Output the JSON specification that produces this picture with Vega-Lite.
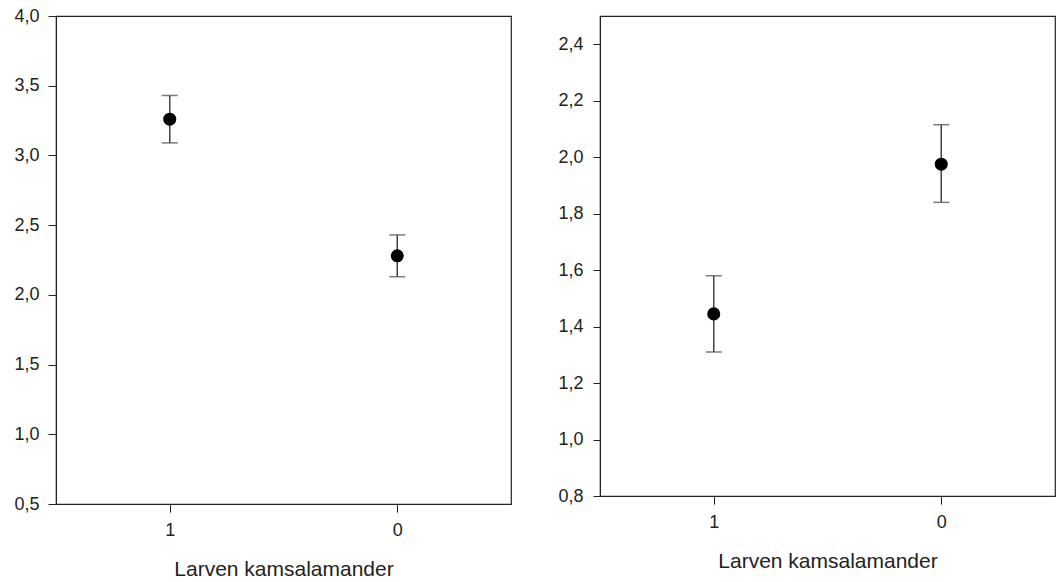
{
  "$schema": "https://vega.github.io/schema/vega-lite/v6.json",
  "background": "white",
  "padding": {"left": 13, "top": 6, "right": 5, "bottom": 0},
  "datasets": {
    "left": [
      {"larven": "1", "mean": 3.26, "lo": 3.09, "hi": 3.43},
      {"larven": "0", "mean": 2.28, "lo": 2.13, "hi": 2.43}
    ],
    "right": [
      {"larven": "1", "mean": 1.445, "lo": 1.31, "hi": 1.58},
      {"larven": "0", "mean": 1.975, "lo": 1.84, "hi": 2.115}
    ]
  },
  "config": {
    "font": "Liberation Sans",
    "view": {"stroke": "#222", "strokeWidth": 1.2},
    "axis": {
      "grid": false,
      "domainColor": "#222",
      "tickColor": "#222",
      "tickSize": 7
    },
    "concat": {"spacing": 45}
  },
  "hconcat": [
    {
      "width": 455,
      "height": 488,
      "data": {"name": "left"},
      "encoding": {
        "x": {"field": "larven", "type": "ordinal", "sort": ["1", "0"],
          "scale": {"type": "point", "padding": 0.5},
          "axis": {"title": "Larven kamsalamander", "labelAngle": 0, "labelPadding": 9, "titlePadding": 19, "tickSize": 8,
            "labelFontSize": 18, "labelColor": "#222", "titleFontSize": 21, "titleFontWeight": "normal", "titleColor": "#222"}}
      },
      "layer": [
        {"mark": {"type": "rule", "color": "#444", "strokeWidth": 1.5},
          "encoding": {"y": {"field": "lo", "type": "quantitative",
            "scale": {"domain": [0.5, 4.0], "nice": false, "zero": false},
            "axis": {"title": null, "values": [0.5, 1.0, 1.5, 2.0, 2.5, 3.0, 3.5, 4.0], "labelPadding": 9, "tickSize": 8,
              "labelFontSize": 18, "labelColor": "#222",
              "labelExpr": "replace(format(datum.value, '.1f'), '.', ',')"}},
            "y2": {"field": "hi"}}},
        {"mark": {"type": "tick", "color": "#444", "thickness": 1.5, "size": 16, "orient": "horizontal"},
          "encoding": {"y": {"field": "lo", "type": "quantitative"}}},
        {"mark": {"type": "tick", "color": "#444", "thickness": 1.5, "size": 16, "orient": "horizontal"},
          "encoding": {"y": {"field": "hi", "type": "quantitative"}}},
        {"mark": {"type": "point", "shape": "circle", "filled": true, "color": "black", "opacity": 1, "size": 170},
          "encoding": {"y": {"field": "mean", "type": "quantitative"}}}
      ]
    },
    {
      "width": 455,
      "height": 480,
      "data": {"name": "right"},
      "encoding": {
        "x": {"field": "larven", "type": "ordinal", "sort": ["1", "0"],
          "scale": {"type": "point", "padding": 0.5},
          "axis": {"title": "Larven kamsalamander", "labelAngle": 0, "labelPadding": 9, "titlePadding": 19, "tickSize": 8,
            "labelFontSize": 18, "labelColor": "#222", "titleFontSize": 21, "titleFontWeight": "normal", "titleColor": "#222"}}
      },
      "layer": [
        {"mark": {"type": "rule", "color": "#444", "strokeWidth": 1.5},
          "encoding": {"y": {"field": "lo", "type": "quantitative",
            "scale": {"domain": [0.8, 2.5], "nice": false, "zero": false},
            "axis": {"title": null, "values": [0.8, 1.0, 1.2, 1.4, 1.6, 1.8, 2.0, 2.2, 2.4], "labelPadding": 10, "tickSize": 7,
              "labelFontSize": 18, "labelColor": "#222",
              "labelExpr": "replace(format(datum.value, '.1f'), '.', ',')"}},
            "y2": {"field": "hi"}}},
        {"mark": {"type": "tick", "color": "#444", "thickness": 1.5, "size": 16, "orient": "horizontal"},
          "encoding": {"y": {"field": "lo", "type": "quantitative"}}},
        {"mark": {"type": "tick", "color": "#444", "thickness": 1.5, "size": 16, "orient": "horizontal"},
          "encoding": {"y": {"field": "hi", "type": "quantitative"}}},
        {"mark": {"type": "point", "shape": "circle", "filled": true, "color": "black", "opacity": 1, "size": 170},
          "encoding": {"y": {"field": "mean", "type": "quantitative"}}}
      ]
    }
  ]
}
